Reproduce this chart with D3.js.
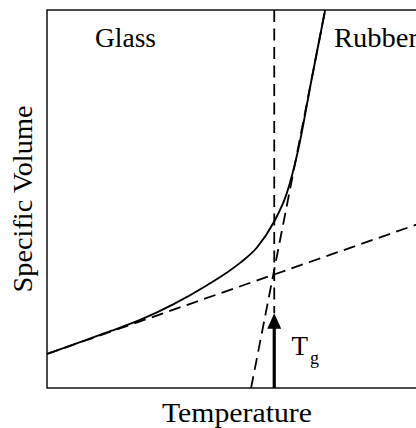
<!DOCTYPE html>
<html>
<head>
<meta charset="utf-8">
<script src="https://cdn.jsdelivr.net/npm/d3@7"></script>
<style>
  html, body { margin: 0; padding: 0; background: #fff; }
  svg { display: block; }
</style>
</head>
<body>
<svg id="chart" width="416" height="428"></svg>
<script>
// ---- data (arbitrary units: temperature 0..100, specific volume 0..100) ----
const curveT = [0, 10.0, 15.7, 24.5, 33.2, 42.0, 50.8, 55.2, 59.6, 63.1, 66.1, 69.7, 73.2];
const curveV = [9.0, 12.6, 14.7, 18.0, 22.1, 27.1, 33.1, 37.1, 43.7, 51.5, 63.0, 82.0, 100];
const glassT = [0, 100];
const glassV = [9.0, 44.2];
const rubberT = [53.7, 73.2];
const rubberV = [0, 100];
const tgT = 59.8;
const tgTipV = 19.8;
const regionLabels = ["Glass", "Rubber"];
const xLabel = "Temperature";
const yLabel = "Specific Volume";

const FONT = "'Liberation Serif', 'DejaVu Serif', serif";
const svg = d3.select("#chart");
const mLeft = 47, mRight = 427, mTop = 10, mBottom = 388;
const x = d3.scaleLinear().domain([0, 100]).range([mLeft, mRight]);
const y = d3.scaleLinear().domain([0, 100]).range([mBottom, mTop]);

svg.append("defs").append("clipPath").attr("id", "clip")
  .append("rect").attr("x", mLeft).attr("y", mTop)
  .attr("width", mRight - mLeft).attr("height", mBottom - mTop);

const g = svg.append("g").attr("clip-path", "url(#clip)");
const line = d3.line().x(d => x(d[0])).y(d => y(d[1]));
const dash = "12,6.5";

// glass asymptote
g.append("path").datum(glassT.map((t, i) => [t, glassV[i]]))
  .attr("d", line).attr("fill", "none").attr("stroke", "#000")
  .attr("stroke-width", 1.8).attr("stroke-dasharray", dash);
// rubber asymptote
g.append("path").datum(rubberT.map((t, i) => [t, rubberV[i]]))
  .attr("d", line).attr("fill", "none").attr("stroke", "#000")
  .attr("stroke-width", 1.8).attr("stroke-dasharray", dash);
// vertical Tg dashed line
g.append("path").datum([[tgT, 100], [tgT, tgTipV]])
  .attr("d", line).attr("fill", "none").attr("stroke", "#000")
  .attr("stroke-width", 1.8).attr("stroke-dasharray", dash);
// solid curve
g.append("path").datum(curveT.map((t, i) => [t, curveV[i]]))
  .attr("d", d3.line().x(d => x(d[0])).y(d => y(d[1])).curve(d3.curveMonotoneX))
  .attr("fill", "none").attr("stroke", "#000").attr("stroke-width", 1.9);

// arrow
const headH = 15.5, headW = 14;
svg.append("line")
  .attr("x1", x(tgT)).attr("x2", x(tgT))
  .attr("y1", y(0)).attr("y2", y(tgTipV) + headH - 1)
  .attr("stroke", "#000").attr("stroke-width", 3.2);
svg.append("path")
  .attr("d", `M${x(tgT)},${y(tgTipV)} L${x(tgT) - headW / 2},${y(tgTipV) + headH} L${x(tgT) + headW / 2},${y(tgTipV) + headH} Z`)
  .attr("fill", "#000");

// frame (left, top, bottom; right side off-canvas)
svg.append("rect").attr("x", mLeft).attr("y", mTop)
  .attr("width", mRight - mLeft).attr("height", mBottom - mTop)
  .attr("fill", "none").attr("stroke", "#000").attr("stroke-width", 1.4);

// labels
function label(sel) { return sel.attr("font-family", FONT).attr("fill", "#000"); }
label(svg.append("text")).attr("x", 95).attr("y", 47).attr("font-size", 27)
  .attr("textLength", 61).attr("lengthAdjust", "spacingAndGlyphs").text(regionLabels[0]);
label(svg.append("text")).attr("x", 334).attr("y", 47).attr("font-size", 27)
  .attr("textLength", 84).attr("lengthAdjust", "spacingAndGlyphs").text(regionLabels[1]);
label(svg.append("text")).attr("x", 162).attr("y", 422).attr("font-size", 27)
  .attr("textLength", 150).attr("lengthAdjust", "spacingAndGlyphs").text(xLabel);
label(svg.append("text")).attr("transform", "translate(31.5,292.5) rotate(-90)")
  .attr("font-size", 27).attr("textLength", 187).attr("lengthAdjust", "spacingAndGlyphs")
  .text(yLabel);
const tg = label(svg.append("text")).attr("x", 291.5).attr("y", 355).attr("font-size", 27);
tg.append("tspan").text("T");
tg.append("tspan").attr("x", 310).attr("y", 363.5).attr("font-size", 18).text("g");
</script>
</body>
</html>
